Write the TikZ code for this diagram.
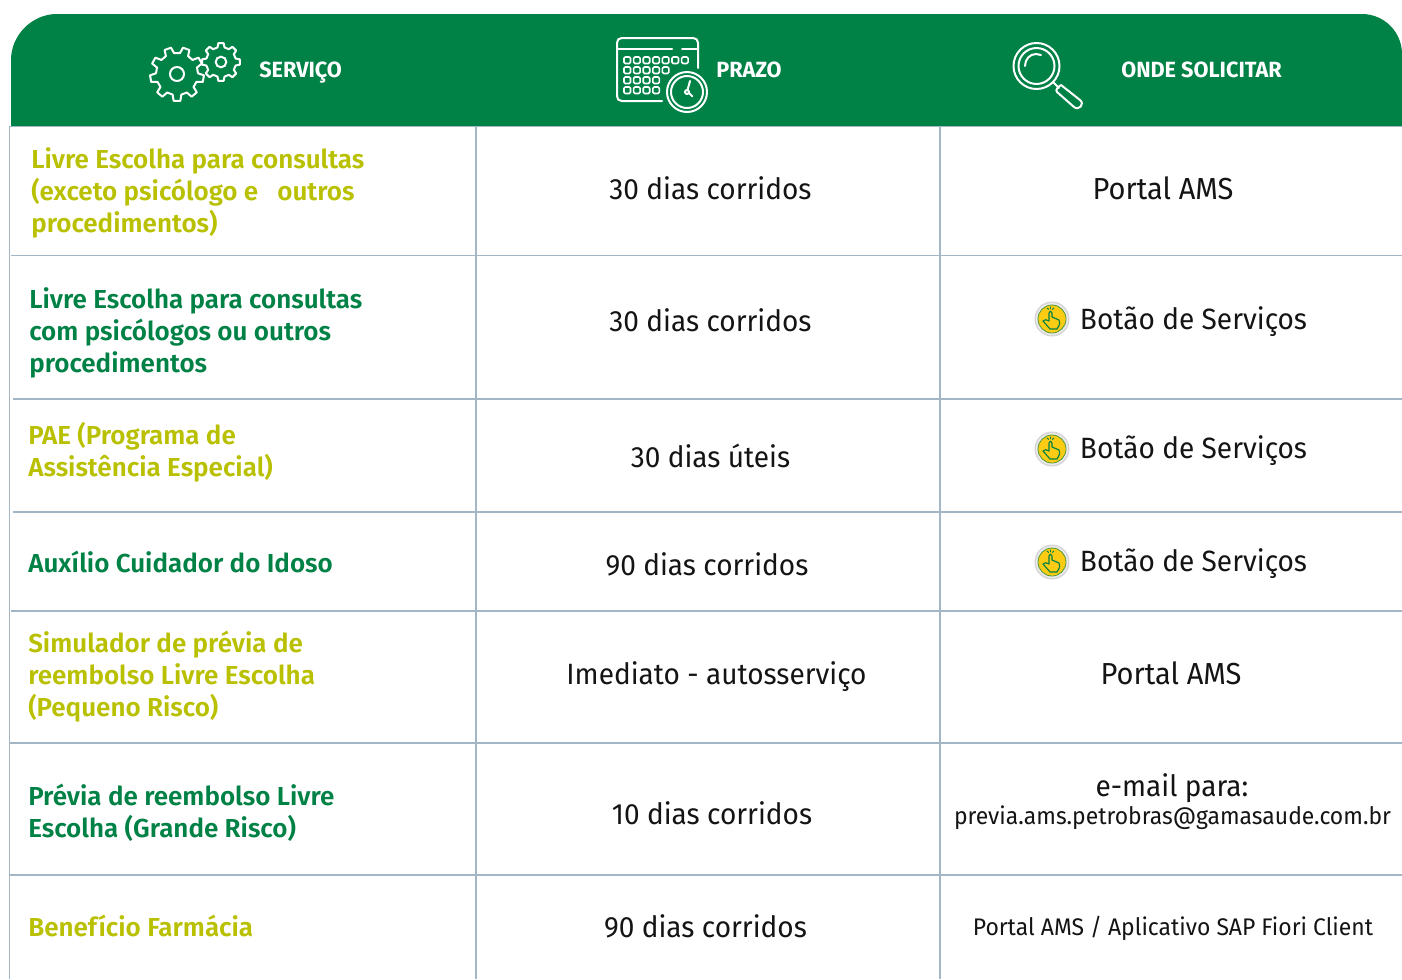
\documentclass[tikz,border=0pt]{standalone}
\usepackage{fontspec}
\setmainfont[FakeStretch=0.955,Numbers={Lining,Proportional}]{Fira Sans}
\newfontfamily\boldfam{Fira Sans SemiBold}
\newfontfamily\headfam[FakeStretch=0.985]{Fira Sans Bold}
\definecolor{hgreen}{HTML}{008145}
\definecolor{lime}{HTML}{B8C000}
\definecolor{rule}{HTML}{A3B6C6}
\definecolor{ink}{HTML}{141414}
\definecolor{coin}{HTML}{FCCB14}
\tikzset{
  x=0.75pt,y=-0.75pt,
  iconline/.style={draw=white,line width=1.5pt,line join=round,line cap=round},
  gridline/.style={draw=rule,line width=0.9pt},
  headtext/.style={text=white,font=\headfam\fontsize{16.5}{18}\selectfont,inner sep=0pt},
  svclime/.style={text=lime,font=\boldfam\fontsize{19.5}{24}\selectfont,align=left,anchor=west,inner sep=0pt},
  svcgreen/.style={text=hgreen,font=\boldfam\fontsize{19.5}{24}\selectfont,align=left,anchor=west,inner sep=0pt},
  celltext/.style={text=ink,font=\fontsize{22}{26}\selectfont,inner sep=0pt},
  portaltext/.style={text=ink,font=\fontsize{22.8}{26}\selectfont,inner sep=0pt},
  smalltext/.style={text=ink,font=\fontsize{18}{22}\selectfont,inner sep=0pt},
  pics/handicon/.style={code={
    \fill[black!16] (0,0) circle (17.5);
    \fill[black!8] (0,0) circle (16);
    \fill[coin,draw=hgreen!70!coin,line width=0.6pt] (0,0) circle (14);
    \draw[hgreen,line width=0.85pt,line join=round,line cap=round,fill=coin]
      (-3,2) -- (-3,-6) .. controls (-3,-8.5) and (0,-8.5) .. (0,-6) -- (0,-2)
      -- (7,1) .. controls (8.5,5) and (7,7) .. (5,10) -- (-2,10) -- (-9,2)
      .. controls (-8,0) and (-5,0.5) .. (-3,2) -- cycle;
    \draw[hgreen,line width=0.7pt] (-5,-11) -- (-3.2,-9.5) (-1.5,-12.5) -- (-1.5,-10) (2,-11) -- (0.2,-9.5);
  }},
}
\newcommand{\gearpath}[6]{% cx cy router rinner teeth rot
  \pgfmathsetmacro{\gstep}{360/#5}
  \draw[iconline] ({#1+#4*cos(#6-0.30*\gstep)},{#2+#4*sin(#6-0.30*\gstep)})
  \foreach \gi in {1,...,#5}{
    \pgfextra{\pgfmathsetmacro{\ga}{#6+(\gi-1)*\gstep}}
    -- ({#1+#3*cos(\ga-0.18*\gstep)},{#2+#3*sin(\ga-0.18*\gstep)})
    -- ({#1+#3*cos(\ga+0.18*\gstep)},{#2+#3*sin(\ga+0.18*\gstep)})
    -- ({#1+#4*cos(\ga+0.30*\gstep)},{#2+#4*sin(\ga+0.30*\gstep)})
    -- ({#1+#4*cos(\ga+0.70*\gstep)},{#2+#4*sin(\ga+0.70*\gstep)})
  } -- cycle;
}
\begin{document}
\begin{tikzpicture}
\useasboundingbox (0,0) rectangle (1402,979);
\fill[white] (0,0) rectangle (1402,979);
% header band
\fill[hgreen] (11,126) -- (11,60) .. controls (11,35) and (32,14) .. (57,14) -- (1362,14) .. controls (1384,14) and (1402,32) .. (1402,54) -- (1402,126) -- cycle;
% grid
\coordinate (g0l) at (9,126.5); \coordinate (g0r) at (1402,126.5);
\coordinate (g1l) at (11,255.5); \coordinate (g1r) at (1402,255.5);
\coordinate (g2l) at (13,399); \coordinate (g2r) at (1402,399);
\coordinate (g3l) at (13,512); \coordinate (g3r) at (1402,512);
\coordinate (g4l) at (11,611); \coordinate (g4r) at (1402,611);
\coordinate (g5l) at (10,743); \coordinate (g5r) at (1402,743);
\coordinate (g6l) at (10,875); \coordinate (g6r) at (1402,875);
\coordinate (v1t) at (476,127); \coordinate (v1b) at (476,979);
\coordinate (v2t) at (940,127); \coordinate (v2b) at (940,979);
\coordinate (v0t) at (9.5,126); \coordinate (v0b) at (9.5,979);
\foreach \r in {0,...,6}{\draw[gridline] (g\r l) -- (g\r r);}
\draw[gridline] (v0t) -- (v0b);
\draw[gridline] (v1t) -- (v1b);
\draw[gridline] (v2t) -- (v2b);
% gears
\gearpath{177}{74}{27}{21}{9}{10}
\node[draw=white,line width=1.5pt,circle,minimum size=10.5pt,inner sep=0pt] (gearholea) at (177,74) {};
\gearpath{221}{62}{19}{15}{8}{0}
\node[draw=white,line width=1.5pt,circle,minimum size=8pt,inner sep=0pt] (gearholeb) at (221,62) {};
% calendar
\draw[iconline,rounded corners=3.5pt] (662,101) -- (617,101) -- (617,38) -- (698,38) -- (698,68);
\draw[iconline] (617,48.5) -- (672,48.5) (682,48.5) -- (698,48.5);
\foreach \cx in {0,...,6}{\draw[iconline,line width=1.2pt,rounded corners=1pt] ({624+\cx*9.6},57) rectangle ++(6.5,6.5);}
\foreach \cx in {0,...,4}{\draw[iconline,line width=1.2pt,rounded corners=1pt] ({624+\cx*9.6},67) rectangle ++(6.5,6.5);}
\foreach \cx in {0,...,3}{\draw[iconline,line width=1.2pt,rounded corners=1pt] ({624+\cx*9.6},77) rectangle ++(6.5,6.5);}
\foreach \cx in {0,...,3}{\draw[iconline,line width=1.2pt,rounded corners=1pt] ({624+\cx*9.6},87) rectangle ++(6.5,6.5);}
\fill[hgreen] (687,92) circle (20);
\draw[iconline] (687,92) circle (20);
\draw[iconline] (687,92) circle (16);
\draw[iconline] (687,92) circle (2);
\draw[iconline] (687.5,90) -- (690,81);
\draw[iconline] (689,93) -- (692.5,96.5);
% magnifier
\draw[iconline] (1036.5,66) circle (23);
\draw[iconline] (1036.5,66) circle (18);
\draw[iconline] (1025,66) .. controls (1025,59) and (1030,54) .. (1036,54) .. controls (1038,54) and (1039,54) .. (1041,55);
\draw[iconline] (1053,82) -- (1059,88);
\draw[iconline] (1061,85) -- (1080,100) .. controls (1085,104) and (1079,111) .. (1074,107) -- (1057,92) .. controls (1055,90) and (1058,87) .. (1061,85);
% headers
\node[headtext,anchor=base west] (hserv) at (259,77) {SERVIÇO};
\node[headtext,anchor=base west] (hprazo) at (716,77) {PRAZO};
\node[headtext,anchor=base west] (honde) at (1121,77) {ONDE SOLICITAR};
% first column
\node[svclime] (s1) at (31,193) {Livre Escolha para consultas\\(exceto psicólogo e \ \ outros\\procedimentos)};
\node[svcgreen] (s2) at (29,333) {Livre Escolha para consultas\\com psicólogos ou outros\\procedimentos};
\node[svclime] (s3) at (28,452) {PAE (Programa de\\Assistência Especial)};
\node[svcgreen] (s4) at (28,562) {Auxílio Cuidador do Idoso};
\node[svclime] (s5) at (28,677) {Simulador de prévia de\\reembolso Livre Escolha\\(Pequeno Risco)};
\node[svcgreen] (s6) at (28,813) {Prévia de reembolso Livre\\Escolha (Grande Risco)};
\node[svclime] (s7) at (28,926) {Benefício Farmácia};
% second column
\node[celltext] (p1) at (710.5,188) {30 dias corridos};
\node[celltext] (p2) at (710.5,320) {30 dias corridos};
\node[celltext] (p3) at (710.5,456) {30 dias úteis};
\node[celltext] (p4) at (707,564) {90 dias corridos};
\node[celltext] (p5) at (716.5,677) {Imediato - autosserviço};
\node[celltext] (p6) at (712,813) {10 dias corridos};
\node[celltext] (p7) at (705.5,926) {90 dias corridos};
% third column
\node[portaltext] (o1) at (1163,188) {Portal AMS};
\pic at (1052,319) {handicon};
\node[celltext] (o2) at (1193.5,322) {Botão de Serviços};
\pic at (1052,449) {handicon};
\node[celltext] (o3) at (1193.5,451) {Botão de Serviços};
\pic at (1052,562) {handicon};
\node[celltext] (o4) at (1193.5,564) {Botão de Serviços};
\node[portaltext] (o5) at (1171,673) {Portal AMS};
\node[celltext] (o6a) at (1172,788) {e-mail para:};
\node[smalltext] (o6b) at (1172.5,818) {previa.ams.petrobras@gamasaude.com.br};
\node[smalltext] (o7) at (1173,928) {Portal AMS / Aplicativo SAP Fiori Client};
\end{tikzpicture}
\end{document}
